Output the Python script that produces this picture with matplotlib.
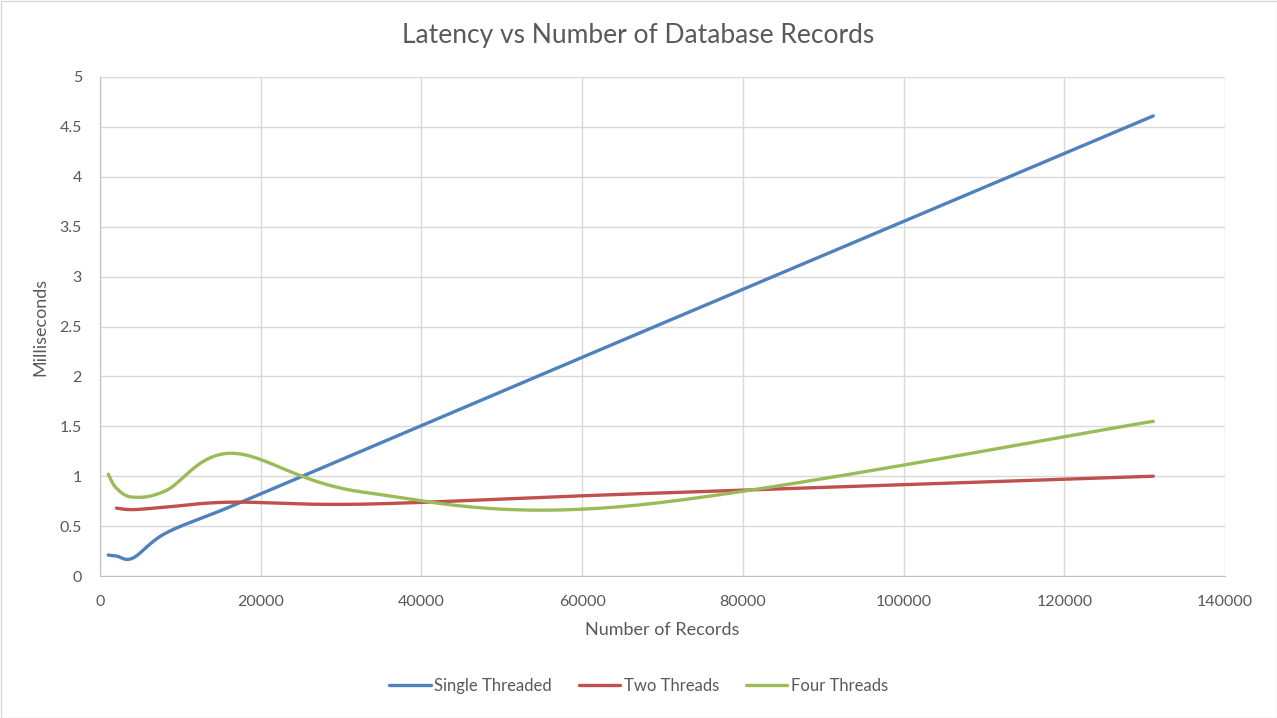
import numpy as np
import matplotlib
matplotlib.use("Agg")
import matplotlib.pyplot as plt
from matplotlib.patches import Rectangle

# records tested (powers of two) and latency in ms
records = [1024, 2048, 4096, 8192, 16384, 32768, 65536, 131072]
single = [0.21, 0.20, 0.18, 0.43, 0.70, 1.26, 2.38, 4.61]
two_rec = [2048, 4096, 8192, 16384, 32768, 65536, 131072]
two = [0.68, 0.665, 0.69, 0.74, 0.72, 0.82, 1.00]
four = [1.02, 0.88, 0.79, 0.855, 1.23, 0.84, 0.70, 1.55]

names = ["Single Threaded", "Two Threads", "Four Threads"]
colors = ["#4f81bd", "#c0504d", "#9bbb59"]
txt = "#595959"


def smooth(xs, ys, n=40):
    # excel style smoothed line: bezier segments with catmull-rom controls
    xs = np.asarray(xs, float)
    ys = np.asarray(ys, float)
    px, py = [], []
    for i in range(len(xs) - 1):
        i0 = max(i - 1, 0)
        i3 = min(i + 2, len(xs) - 1)
        c1 = (xs[i] + (xs[i + 1] - xs[i0]) / 6, ys[i] + (ys[i + 1] - ys[i0]) / 6)
        c2 = (xs[i + 1] - (xs[i3] - xs[i]) / 6, ys[i + 1] - (ys[i3] - ys[i]) / 6)
        t = np.linspace(0, 1, n)
        a = (1 - t) ** 3
        b = 3 * (1 - t) ** 2 * t
        c = 3 * (1 - t) * t ** 2
        d = t ** 3
        px.extend(a * xs[i] + b * c1[0] + c * c2[0] + d * xs[i + 1])
        py.extend(a * ys[i] + b * c1[1] + c * c2[1] + d * ys[i + 1])
    return px, py


plt.rcParams['font.family'] = ['Lato', 'DejaVu Sans']
fig = plt.figure(figsize=(12.77, 7.18), dpi=100)
ax = fig.add_axes([100 / 1277, 1 - 576 / 718, 1125 / 1277, 499 / 718])

for xs, ys, nm, col in [(records, single, names[0], colors[0]),
                        (two_rec, two, names[1], colors[1]),
                        (records, four, names[2], colors[2])]:
    sx, sy = smooth(xs, ys)
    ax.plot(sx, sy, color=col, lw=2.4, label=nm, solid_capstyle='round')

ax.set_xlim(0, 140000)
ax.set_ylim(0, 5)
ax.set_xticks(np.arange(0, 140001, 20000))
ax.set_yticks(np.arange(0, 5.01, 0.5))
ax.set_yticklabels(["0", "0.5", "1", "1.5", "2", "2.5", "3", "3.5", "4", "4.5", "5"])
ax.grid(True, color="#d9d9d9", lw=1)
ax.set_axisbelow(True)
ax.tick_params(length=0, labelsize=11.5, colors=txt)
ax.tick_params(axis="x", pad=14)
ax.tick_params(axis="y", pad=13)
for s in ["top", "right"]:
    ax.spines[s].set_visible(False)
for s in ["left", "bottom"]:
    ax.spines[s].set_color("#bfbfbf")

ax.set_xlabel("Number of Records", fontsize=13, color=txt, labelpad=9)
ax.set_ylabel("Milliseconds", fontsize=13, color=txt, labelpad=8)
fig.text(0.5, 1 - 35 / 718, "Latency vs Number of Database Records",
         ha="center", va="center", fontsize=19, color=txt)

fig.legend(loc="center", bbox_to_anchor=(0.5, 1 - 686 / 718), ncol=3,
           frameon=False, fontsize=12, handlelength=2.5, columnspacing=1.6,
           handletextpad=0.2, labelcolor=txt)

fig.patches.append(Rectangle((0.5 / 1277, 0.5 / 718), 1 - 1 / 1277, 1 - 1 / 718,
                             transform=fig.transFigure, fill=False,
                             edgecolor="#d9d9d9", lw=1))

fig.savefig("out.png", dpi=100)
